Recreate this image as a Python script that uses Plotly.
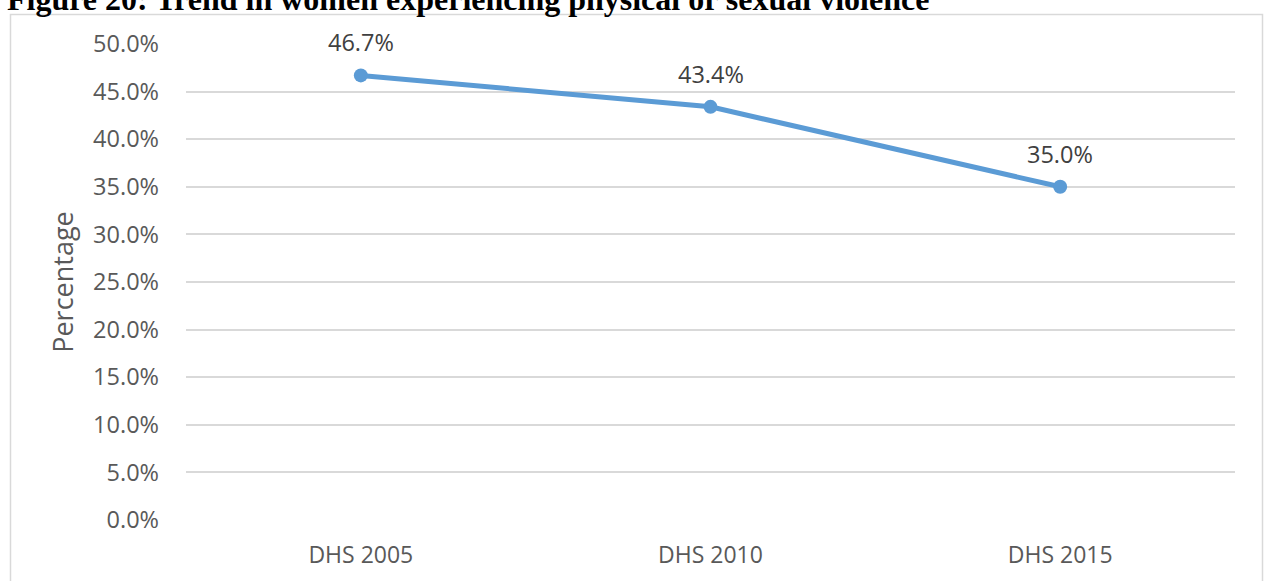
import plotly.graph_objects as go

categories = ["DHS 2005", "DHS 2010", "DHS 2015"]
values = [46.7, 43.4, 35.0]
value_labels = ["46.7%", "43.4%", "35.0%"]
tick_vals = [0, 5, 10, 15, 20, 25, 30, 35, 40, 45, 50]
tick_text = ["0.0%", "5.0%", "10.0%", "15.0%", "20.0%", "25.0%", "30.0%", "35.0%", "40.0%", "45.0%", "50.0%"]
title_text = "Figure 20: Trend in women experiencing physical or sexual violence"
y_title = "Percentage"

W, H = 1264, 581
L, R, T, B = 186, 29, 43.5, 61
pw = W - L - R
ph = H - T - B

fig = go.Figure()
fig.add_trace(go.Scatter(
    x=categories, y=values, mode="lines+markers",
    line=dict(color="#5B9BD5", width=5),
    marker=dict(color="#5B9BD5", size=14),
    hoverinfo="skip", showlegend=False,
))

for c, v, t in zip(categories, values, value_labels):
    fig.add_annotation(x=c, y=v, text=t, showarrow=False, yanchor="middle",
                       yshift=33, font=dict(family="Open Sans", size=23.5, color="#404040"))

# Title (clipped at top, as in the source page)
fig.add_annotation(xref="paper", yref="paper", x=(5 - L) / pw, y=(ph + T - 18) / ph,
                   xanchor="left", yanchor="bottom", text="<b>" + title_text + "</b>",
                   showarrow=False,
                   font=dict(family="Liberation Serif", size=32, color="#000000"))

# Chart border
fig.add_shape(type="rect", xref="paper", yref="paper",
              x0=(10.5 - L) / pw, x1=(1262.5 - L) / pw,
              y0=(ph + T - 600) / ph, y1=(ph + T - 14) / ph,
              line=dict(color="#D9D9D9", width=1.5), fillcolor="rgba(0,0,0,0)", layer="below")

fig.update_layout(
    width=W, height=H,
    margin=dict(l=L, r=R, t=T, b=B, autoexpand=False),
    paper_bgcolor="white", plot_bgcolor="white",
    font=dict(family="Open Sans", color="#595959"),
    xaxis=dict(type="category", range=[-0.5, 2.5], showgrid=False, zeroline=False,
               showline=False, ticks="",
               tickfont=dict(family="Open Sans", size=23, color="#595959"),
               ticklabelstandoff=19),
    yaxis=dict(range=[0, 50], tickvals=tick_vals, ticktext=tick_text,
               showgrid=True, gridcolor="#D9D9D9", gridwidth=1.5,
               zeroline=False, showline=False, ticks="",
               tickfont=dict(family="Open Sans", size=23.5, color="#595959"),
               ticklabelstandoff=26,
               title=dict(text=y_title, standoff=11,
                          font=dict(family="Open Sans", size=27, color="#595959"))),
)

fig.write_html("out.html", config={"displayModeBar": False},
               post_script="document.body.style.margin='0';document.body.style.overflow='hidden';")
